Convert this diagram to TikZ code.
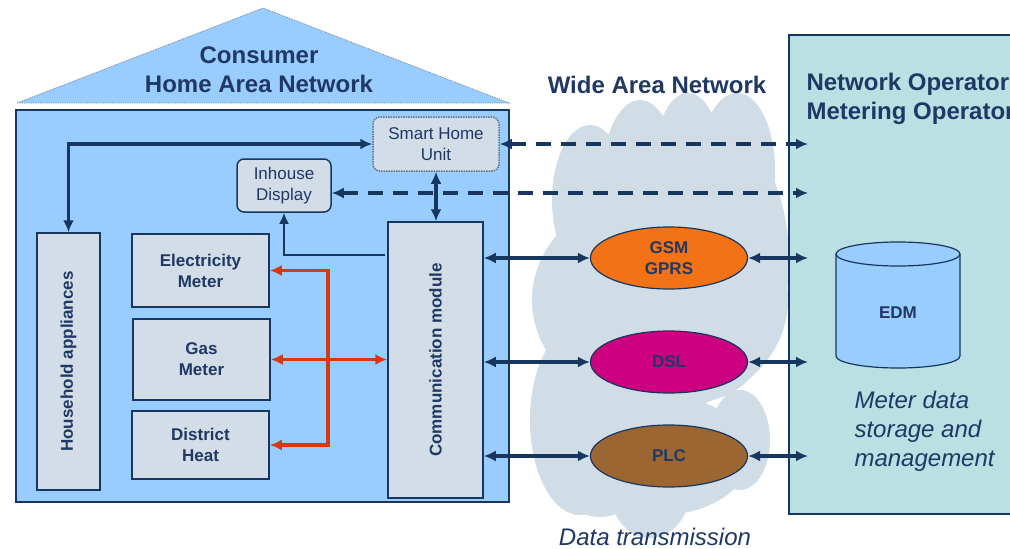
\documentclass[tikz,border=0pt]{standalone}
\usepackage{fontspec}
\setmainfont{Liberation Sans}
\usetikzlibrary{arrows.meta,calc,shapes.geometric}
\definecolor{navy}{HTML}{17375E}
\definecolor{txt}{HTML}{1F3864}
\definecolor{house}{HTML}{99CCFF}
\definecolor{boxf}{HTML}{D2DDE7}
\definecolor{cloudc}{HTML}{D0DCE6}
\definecolor{opbox}{HTML}{BAE0E3}
\definecolor{redc}{HTML}{D53A0E}
\definecolor{gsmc}{HTML}{F47216}
\definecolor{dslc}{HTML}{CC0080}
\definecolor{plcc}{HTML}{9C6633}
\begin{document}
\begin{tikzpicture}[x=1pt,y=-1pt,
  box/.style={draw=navy, line width=1.5pt, fill=boxf, text=txt, align=center, inner sep=0pt,
    font=\fontsize{17}{21}\selectfont\bfseries},
  rbox/.style={box, rounded corners=7pt, font=\fontsize{17}{21}\selectfont},
  oval/.style={ellipse, draw=navy, line width=1.2pt, text=txt, inner sep=0pt,
    minimum width=157pt, minimum height=62pt, align=center, font=\fontsize{17}{21}\selectfont\bfseries},
  conn/.style={draw=navy, line width=3.3pt, {Latex[length=12pt,width=11pt]}-{Latex[length=12pt,width=11pt]}},
  dconn/.style={conn, dash pattern=on 15pt off 10pt},
  tconn/.style={draw=navy, line width=2pt, -{Latex[length=11pt,width=10pt]}},
  rconn/.style={draw=redc, line width=3.6pt, {Latex[length=12pt,width=11pt]}-{Latex[length=12pt,width=11pt]}},
  ttl/.style={text=txt, font=\fontsize{24}{29}\selectfont\bfseries, align=center},
  itl/.style={text=txt, font=\fontsize{24}{29}\selectfont\itshape, align=left}]
\path[use as bounding box] (0,0) rectangle (1010,549);
\clip (0,0) rectangle (1010,549);
% cloud
\begin{scope}[fill=cloudc]
  \fill (590,200) ellipse [x radius=38, y radius=75];
  \fill (640,180) ellipse [x radius=38, y radius=80];
  \fill (688,170) ellipse [x radius=35, y radius=77];
  \fill (737,170) ellipse [x radius=38, y radius=77];
  \fill (660,300) ellipse [x radius=128, y radius=110];
  \fill (705,260) ellipse [x radius=84, y radius=140];
  \fill (580,420) ellipse [x radius=50, y radius=95];
  \fill (660,455) ellipse [x radius=90, y radius=60];
  \fill (650,490) ellipse [x radius=40, y radius=48];
  \fill (600,470) ellipse [x radius=45, y radius=47];
  \fill (740,440) ellipse [x radius=30, y radius=50];
\end{scope}
% house
\draw[fill=house, draw=navy!60, line width=0.8pt, densely dotted] (17,103) -- (263,8) -- (509,103) -- cycle;
\draw[fill=house, draw=navy, line width=1.5pt] (16,110) rectangle (509,502);
% operator box
\draw[fill=opbox, draw=navy, line width=1.5pt] (789,35) rectangle (1020,514);
% titles
\node[ttl] (t1) at (259,70) {Consumer\\Home Area Network};
\node[ttl] (t2) at (657,85) {Wide Area Network};
\node[ttl, anchor=west, align=left] (t3) at (803,99) {Network Operator\\Metering Operator};
\node[itl, anchor=west] (t4) at (851,431) {Meter data\\storage and\\management};
\node[itl] (t5) at (655,537) {Data transmission};
% nodes
\node[rbox, draw=navy!70, densely dotted, minimum width=126pt, minimum height=54pt] (smart) at (436,144) {Smart Home\\Unit};
\node[rbox, minimum width=94pt, minimum height=53pt] (disp) at (284,185.5) {Inhouse\\Display};
\node[box, minimum width=63pt, minimum height=257pt] (hh) at (68.5,361.5) {\rotatebox{90}{Household appliances}};
\node[box, minimum width=137pt, minimum height=73pt] (elec) at (200.5,270.5) {Electricity\\Meter};
\node[box, minimum width=137pt, minimum height=81pt] (gas) at (201.5,359.5) {Gas\\Meter};
\node[box, minimum width=137pt, minimum height=68pt] (heat) at (200.5,445) {District\\Heat};
\node[box, minimum width=95pt, minimum height=276pt] (comm) at (435.5,360) {\rotatebox{90}{Communication module}};
\node[oval, fill=gsmc] (gsm) at (669,258) {GSM\\GPRS};
\node[oval, fill=dslc] (dsl) at (669,362) {DSL};
\node[oval, fill=plcc] (plc) at (669,456) {PLC};
% EDM cylinder
\draw[fill=house, draw=navy, line width=1.2pt] (836,254) -- (836,356) arc[start angle=180, end angle=360, x radius=62, y radius=-12] -- (960,254) arc[start angle=0, end angle=180, x radius=62, y radius=-12] -- cycle;
\draw[draw=navy, line width=1.2pt] (836,254) arc[start angle=180, end angle=360, x radius=62, y radius=-12];
\node[text=txt, font=\fontsize{17}{21}\selectfont\bfseries] (edm) at (898,313) {EDM};
% free ends
\coordinate (o1) at (808,144);
\coordinate (o2) at (808,193);
\coordinate (r1) at (808,258);
\coordinate (r2) at (808,362);
\coordinate (r3) at (808,456);
\coordinate (vx) at (328,360);
% connectors
\draw[conn] (smart.west) -| (hh.north);
\draw[conn] (smart.south) -- (comm.north -| smart.south);
\draw[tconn] ($(comm.north west)+(-2,34)$) -| (disp.south);
\draw[dconn] (smart.east) -- (o1);
\draw[dconn] (o2 -| disp.east) -- (o2);
\draw[rconn] (elec.east) -- (vx |- elec.east) -- (vx |- heat.east) -- (heat.east);
\draw[rconn] (gas.east) -- (comm.west |- gas.east);
\draw[conn] (comm.east |- gsm.west) -- (gsm.west);
\draw[conn] (comm.east |- dsl.west) -- (dsl.west);
\draw[conn] (comm.east |- plc.west) -- (plc.west);
\draw[conn] (gsm.east) -- (r1);
\draw[conn] (dsl.east) -- (r2);
\draw[conn] (plc.east) -- (r3);
\end{tikzpicture}
\end{document}
